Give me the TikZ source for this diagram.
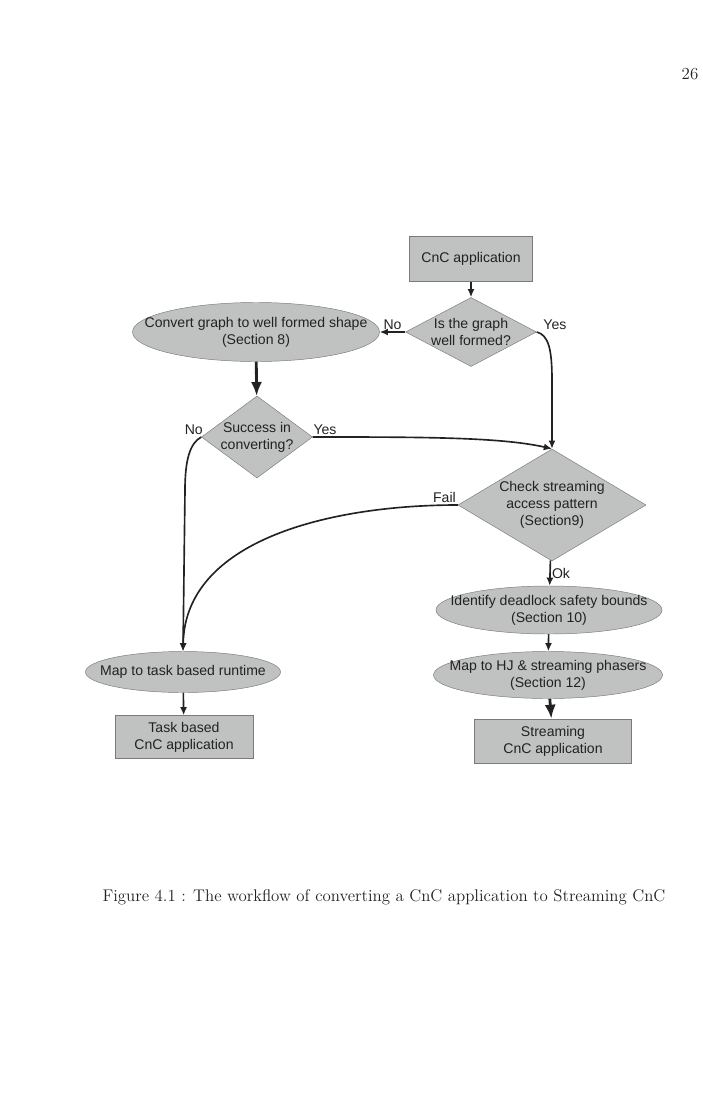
\documentclass[tikz,border=0pt]{standalone}
\usepackage{fontspec}
\newfontfamily\chartfont{Liberation Sans}
\usetikzlibrary{arrows.meta,shapes.geometric}
\definecolor{ink}{HTML}{222222}
\definecolor{shade}{HTML}{C0C2C1}
\definecolor{rim}{HTML}{7A7A7A}

\begin{document}
\begin{tikzpicture}[x=0.03cm,y=-0.03cm,font=\chartfont\fontsize{12}{14.5}\selectfont,text=ink,
  box/.style={draw=rim,fill=shade,inner sep=0pt,align=center},
  stage/.style={ellipse,draw=rim,fill=shade,inner sep=0pt},
  test/.style={diamond,draw=rim,fill=shade,inner sep=0pt},
  txt/.style={align=center,inner sep=0pt},
  flow/.style={draw=ink,line width=1.4pt,-{Latex[length=7pt,width=6pt]}},
  heavy/.style={draw=ink,line width=2.4pt,-{Latex[length=12pt,width=9.5pt]}},
  tag/.style={inner sep=1pt},
  page/.style={font=\rmfamily\fontsize{14.4}{17}\selectfont}]
  \useasboundingbox (0,0) rectangle (703,1114);
  \node[page] (pageno) at (690,74) {26};

  % main column
  \node[box,minimum width=3.69cm,minimum height=1.35cm] (app) at (471,259) {CnC application};
  \node[test,minimum width=3.93cm,minimum height=2.07cm,
        label={[txt]center:{Is the graph\\well formed?}}] (wf) at (471,332) {};
  \node[stage,minimum width=7.41cm,minimum height=1.77cm,
        label={[txt]center:{Convert graph to well formed shape\\(Section 8)}}] (conv) at (256,332) {};
  \node[test,minimum width=3.33cm,minimum height=2.46cm,
        label={[txt]center:{Success in\\converting?}}] (succ) at (257,437) {};
  \node[test,minimum width=5.64cm,minimum height=3.36cm,
        label={[txt]center:{Check streaming\\access pattern\\(Section9)}}] (chk) at (552,505) {};

  % streaming branch
  \node[stage,minimum width=6.78cm,minimum height=1.44cm,
        label={[txt]center:{Identify deadlock safety bounds\\(Section 10)}}] (ident) at (549,610) {};
  \node[stage,minimum width=6.87cm,minimum height=1.41cm,
        label={[txt]center:{Map to HJ \& streaming phasers\\(Section 12)}}] (maphj) at (548,675) {};
  \node[box,minimum width=4.71cm,minimum height=1.32cm] (stream) at (553,741) {Streaming\\CnC application};

  % task branch
  \node[stage,minimum width=5.85cm,minimum height=1.23cm,
        label={[txt]center:{Map to task based runtime}}] (mtask) at (183,672) {};
  \node[box,minimum width=4.14cm,minimum height=1.29cm] (taskapp) at (184,737) {Task based\\CnC application};

  \coordinate (nobend) at (185,490);

  \draw[flow] (app) -- (wf);
  \draw[flow] (wf.west) -- node[tag,above] {No} (conv.east);
  \draw[flow] (wf.east) node[tag,anchor=south west,xshift=4pt] {Yes}
    .. controls +(12,3) and +(0,-30) .. (552,380) -- (chk.north);
  \draw[heavy] (conv) -- (succ);
  \draw[flow] (succ.east) node[tag,anchor=south west,xshift=-1pt] {Yes}
    .. controls (420,437) and (500,437) .. (chk.north);
  \draw[flow] (succ.west) node[tag,anchor=south east,xshift=3pt] {No}
    .. controls (190,443) and (185,460) .. (nobend) -- (mtask.north);
  \draw[flow] (chk.west) node[tag,anchor=south east] {Fail}
    .. controls (330,505) and (185,540) .. (mtask.north);
  \draw[flow] (chk) -- node[tag,right] {Ok} (ident);
  \draw[flow] (ident) -- (maphj);
  \draw[heavy] (maphj) -- (stream);
  \draw[flow] (mtask) -- (taskapp);

  \node[page] (caption) at (384,897)
    {Figure 4.1 : The workflow of converting a CnC application to Streaming CnC};
\end{tikzpicture}
\end{document}
